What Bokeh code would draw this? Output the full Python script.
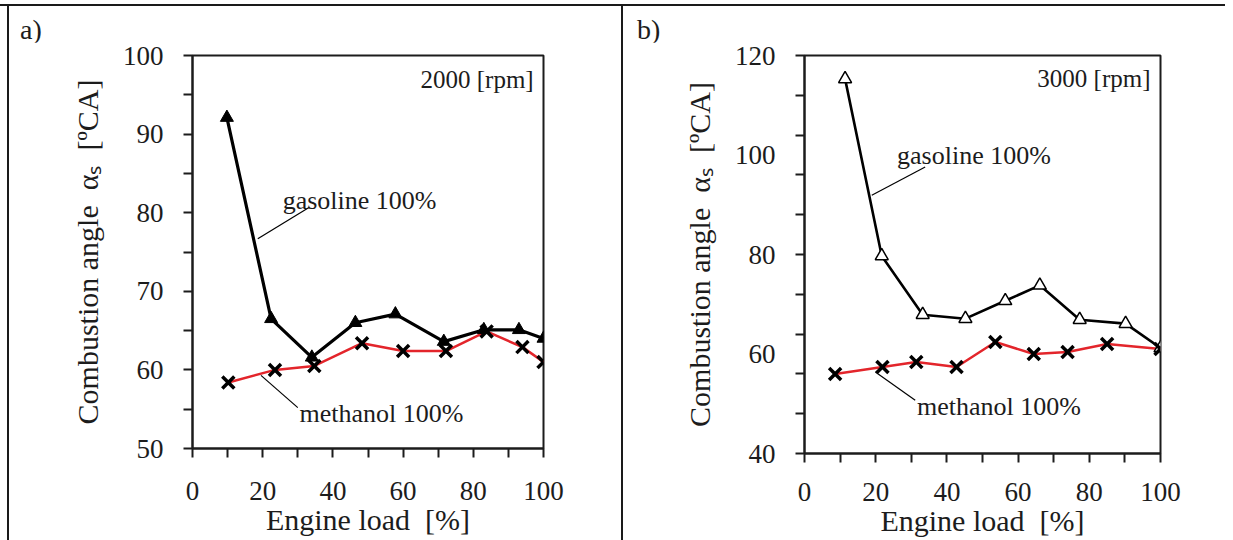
from bokeh.plotting import figure
from bokeh.layouts import row, column
from bokeh.models import FixedTicker, Div, Range1d
from bokeh.core.properties import value
from bokeh.embed import file_html
from bokeh.resources import INLINE

# ---- data ----
load_a_gas = [9.8, 22.4, 34.0, 46.4, 57.8, 71.6, 83.0, 93.0, 100.0]
angle_a_gas = [92.1, 66.5, 61.6, 66.0, 67.1, 63.6, 65.1, 65.1, 64.0]
load_a_meth = [10.2, 23.5, 34.7, 48.3, 60.0, 72.2, 83.8, 94.0, 100.0]
angle_a_meth = [58.4, 60.0, 60.5, 63.4, 62.4, 62.4, 64.9, 62.9, 61.0]

load_b_gas = [11.4, 21.7, 33.2, 45.2, 56.4, 66.1, 77.3, 90.2, 100.0]
angle_b_gas = [115.3, 79.7, 67.9, 67.1, 70.7, 73.8, 66.9, 66.1, 61.2]
load_b_meth = [8.6, 21.9, 31.4, 42.7, 53.6, 64.4, 73.9, 85.0, 100.0]
angle_b_meth = [56.0, 57.4, 58.4, 57.4, 62.4, 60.0, 60.4, 62.0, 61.0]

x_labels = [0, 20, 40, 60, 80, 100]
x_tick_marks = [0, 10, 20, 30, 40, 50, 60, 70, 80, 90, 100]
y_labels_a = [50, 60, 70, 80, 90, 100]
y_tick_marks_a = [50, 55, 60, 65, 70, 75, 80, 85, 90, 95, 100]
y_labels_b = [40, 60, 80, 100, 120]
y_tick_marks_b = [40, 48, 56, 64, 72, 80, 88, 96, 104, 112, 120]

FONT = "Liberation Serif"
INK = "#1c1c1c"
RED = "#e3252b"
BORDER = "#1a1a1a"
NB = "\u00a0"


def make_panel(width, height, mb, yr, ylabels, yticks, rpm_text, x_standoff,
               gx, gy, mx, my, filled, rpm_pos, gas_lbl, meth_lbl, gas_lead, meth_lead):
    p = figure(width=width, height=height, output_backend="svg", toolbar_location=None,
               x_range=Range1d(0, 100), y_range=Range1d(*yr),
               min_border_left=mb[0], min_border_right=mb[1],
               min_border_top=mb[2], min_border_bottom=mb[3])
    p.background_fill_color = "white"
    p.border_fill_color = "white"
    p.outline_line_color = INK
    p.outline_line_width = 2
    p.grid.visible = False

    p.xaxis.ticker = FixedTicker(ticks=x_labels, minor_ticks=x_tick_marks)
    p.yaxis.ticker = FixedTicker(ticks=ylabels, minor_ticks=yticks)
    for ax in (p.xaxis, p.yaxis):
        ax.axis_line_color = INK
        ax.axis_line_width = 2
        ax.major_tick_out = 0
        ax.major_tick_in = 0
        ax.minor_tick_out = 9
        ax.minor_tick_in = 0
        ax.minor_tick_line_color = INK
        ax.minor_tick_line_width = 2
        ax.major_label_text_font = FONT
        ax.major_label_text_font_size = "27px"
        ax.major_label_text_color = INK
        ax.axis_label_text_font = FONT
        ax.axis_label_text_font_size = "30px"
        ax.axis_label_text_font_style = "normal"
        ax.axis_label_text_color = INK
    p.xaxis.major_label_standoff = x_standoff
    p.xaxis.axis_label_standoff = 0
    p.yaxis.major_label_standoff = 20
    p.yaxis.axis_label_standoff = 16
    p.xaxis.axis_label = "Engine load" + NB + NB + "[%]"
    p.yaxis.axis_label = ("Combustion angle" + NB + NB + "\u03b1\u209b" + NB + NB + "[\u00baCA]")

    # series
    p.line(mx, my, line_color=RED, line_width=2.5)
    p.line(gx, gy, line_color="black", line_width=3.2 if filled else 2.6)
    if filled:
        p.scatter(gx, gy, marker="triangle", size=13, fill_color="black", line_color="black")
    else:
        p.scatter(gx, gy, marker="triangle", size=13, fill_color="white", line_color="black",
                  line_width=1.5)
    p.scatter(mx, my, marker="x", size=17, line_color="black", line_width=3.5)

    # leader lines
    p.line(gas_lead[0], gas_lead[1], line_color="black", line_width=1.2)
    p.line(meth_lead[0], meth_lead[1], line_color="black", line_width=1.2)

    # texts
    p.text(x=[rpm_pos[0]], y=[rpm_pos[1]], text=[rpm_text], text_font=value(FONT),
           text_font_size=value("25px"), text_color=INK, text_align="right",
           text_baseline="middle")
    p.text(x=[gas_lbl[0]], y=[gas_lbl[1]], text=["gasoline 100%"], text_font=value(FONT),
           text_font_size=value("26px"), text_color=INK, text_align="left",
           text_baseline="middle")
    p.text(x=[meth_lbl[0]], y=[meth_lbl[1]], text=["methanol 100%"], text_font=value(FONT),
           text_font_size=value("26px"), text_color=INK, text_align="left",
           text_baseline="middle")
    return p


def letter(txt, w, pad):
    html = ('<div style="font-family:\'Liberation Serif\';font-size:28px;line-height:30px;'
            'color:%s;padding-left:%dpx;padding-top:9px;">%s</div>' % (INK, pad, txt))
    return Div(text=html, width=w, height=36, margin=0)


pa = make_panel(612, 498, (183, 78, 13, 92), (50, 100), y_labels_a, y_tick_marks_a,
                "2000 [rpm]", 24, load_a_gas, angle_a_gas, load_a_meth, angle_a_meth, True,
                (97.2, 97.0), (25.7, 81.5), (30.5, 54.4),
                ([18.6, 33.3], [76.7, 80.7]), ([19.5, 30.0], [59.3, 55.2]))

pb = make_panel(602, 498, (181, 65, 13, 87), (40, 120), y_labels_b, y_tick_marks_b,
                "3000 [rpm]", 20, load_b_gas, angle_b_gas, load_b_meth, angle_b_meth, False,
                (97.2, 115.3), (26.0, 99.9), (31.6, 49.4),
                ([18.9, 33.9], [91.9, 97.6]), ([19.9, 31.1], [56.4, 50.7]))


def bar(w, h, color=BORDER):
    return Div(text="", width=w, height=h, margin=0,
               styles={"background-color": color})


layout = column(
    bar(1225, 4, "white"),
    bar(1225, 2),
    row(bar(7, 534, "white"), bar(2, 534),
        column(letter("a)", 612, 11), pa, spacing=0),
        bar(2, 534),
        column(letter("b)", 602, 14), pb, spacing=0),
        spacing=0),
    spacing=0)

open("out.html", "w").write(file_html(layout, INLINE))
